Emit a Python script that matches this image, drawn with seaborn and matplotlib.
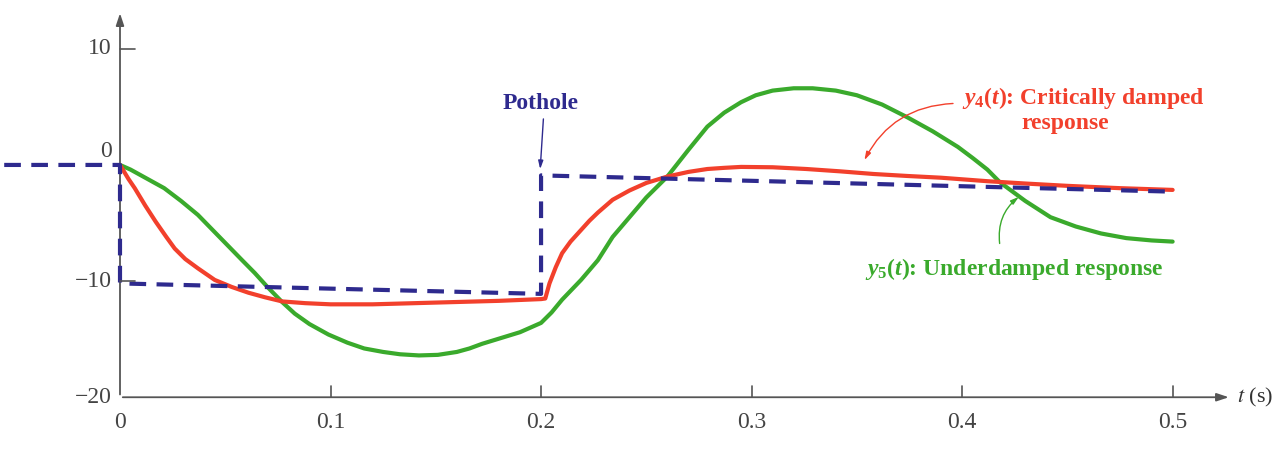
import matplotlib
matplotlib.use('Agg')
import matplotlib.pyplot as plt
import seaborn as sns
import pandas as pd

# values (t in s, displacement in cm)
pothole_t = [-0.055, 0.0, 0.0, 0.2, 0.2, 0.5]
pothole_y = [0.0, 0.0, -10.2, -11.1, -0.9, -2.3]

y4_t = [0.0, 0.004, 0.007, 0.012, 0.017, 0.022, 0.026, 0.031, 0.037, 0.045, 0.053, 0.061, 0.069,
        0.077, 0.088, 0.1, 0.12, 0.14, 0.16, 0.18, 0.2,
        0.202, 0.204, 0.207, 0.21, 0.214, 0.219, 0.223, 0.227, 0.234, 0.242, 0.25, 0.26, 0.27,
        0.279, 0.287, 0.295, 0.31, 0.326, 0.342, 0.358, 0.374, 0.39, 0.412, 0.43, 0.45, 0.475, 0.5]
y4_y = [0.0, -1.2, -2.0, -3.5, -4.9, -6.2, -7.2, -8.1, -8.9, -9.9, -10.5, -11.0, -11.4,
        -11.75, -11.9, -12.0, -12.0, -11.9, -11.8, -11.7, -11.55,
        -11.5, -10.2, -8.8, -7.6, -6.6, -5.6, -4.8, -4.1, -3.0, -2.2, -1.55, -1.0, -0.6,
        -0.35, -0.25, -0.17, -0.2, -0.35, -0.55, -0.78, -0.95, -1.1, -1.4, -1.6, -1.8, -2.0, -2.15]

y5_t = [0.0, 0.005, 0.01, 0.015, 0.021, 0.029, 0.037, 0.044, 0.051, 0.058, 0.064, 0.07,
        0.077, 0.083, 0.09, 0.099, 0.108, 0.116, 0.125, 0.133, 0.142, 0.151, 0.16, 0.166,
        0.172, 0.181, 0.19, 0.195, 0.2, 0.205, 0.21, 0.219, 0.227, 0.234, 0.242, 0.25, 0.26, 0.27,
        0.279, 0.287, 0.295, 0.302, 0.31, 0.32, 0.329, 0.34, 0.35, 0.362, 0.374, 0.386, 0.398,
        0.405, 0.412, 0.418, 0.43, 0.442, 0.454, 0.466, 0.478, 0.49, 0.5]
y5_y = [0.0, -0.4, -0.9, -1.4, -2.0, -3.1, -4.3, -5.6, -6.9, -8.2, -9.3, -10.5,
        -11.8, -12.8, -13.7, -14.6, -15.3, -15.8, -16.1, -16.3, -16.4, -16.35, -16.1, -15.8,
        -15.4, -14.9, -14.4, -14.0, -13.6, -12.7, -11.6, -9.9, -8.2, -6.2, -4.5, -2.8, -1.0, 1.3,
        3.3, 4.5, 5.4, 6.0, 6.4, 6.6, 6.6, 6.4, 6.0, 5.2, 4.1, 2.9, 1.55,
        0.6, -0.4, -1.5, -3.1, -4.5, -5.3, -5.9, -6.3, -6.5, -6.6]

x_ticks = [0.0, 0.1, 0.2, 0.3, 0.4, 0.5]
x_tick_labels = ['0', '0.1', '0.2', '0.3', '0.4', '0.5']
y_ticks = [10, 0, -10, -20]
y_tick_labels = ['10', '0', '\u221210', '\u221220']

RED = '#f2402c'
GREEN = '#3aaa2c'
NAVY = '#2e2a8e'
AXIS = '#555555'

sns.set_theme(style='white')
plt.rcParams['font.family'] = ['Liberation Serif', 'DejaVu Serif']
plt.rcParams['mathtext.fontset'] = 'custom'
plt.rcParams['mathtext.rm'] = 'Liberation Serif:bold'
plt.rcParams['mathtext.it'] = 'Liberation Serif:italic:bold'

fig = plt.figure(figsize=(12.8, 4.53), dpi=100)
ax = fig.add_axes([0, 0, 1, 1])
ax.set_xlim(-0.057, 0.551)
ax.set_ylim(-24.8, 14.2)
ax.axis('off')

pothole = pd.DataFrame({'t': pothole_t, 'y': pothole_y})
y4 = pd.DataFrame({'t': y4_t, 'y': y4_y})
y5 = pd.DataFrame({'t': y5_t, 'y': y5_y})

sns.lineplot(data=y5, x='t', y='y', color=GREEN, lw=3, sort=False, estimator=None, ax=ax)
sns.lineplot(data=y4, x='t', y='y', color=RED, lw=3, sort=False, estimator=None, ax=ax)
sns.lineplot(data=pothole, x='t', y='y', color=NAVY, lw=3, sort=False, estimator=None, ax=ax,
             linestyle=(0, (4, 2.5)))

# axes with arrows
ax.annotate('', xy=(0.528, -20), xytext=(0, -20), zorder=0,
            arrowprops=dict(arrowstyle='-|>,head_length=0.6,head_width=0.2', color=AXIS, lw=1.3))
ax.annotate('', xy=(0, 13.3), xytext=(0, -20), zorder=0,
            arrowprops=dict(arrowstyle='-|>,head_length=0.6,head_width=0.2', color=AXIS, lw=1.3))
ax.text(0.5305, -20, r'$t$ (s)', fontsize=16, va='center', ha='left', color='#333333',
        math_fontfamily='stix')

for xt, lab in zip(x_ticks, x_tick_labels):
    if xt > 0:
        ax.plot([xt, xt], [-20, -19.0], color=AXIS, lw=1.2)
    ax.text(xt, -21.3, lab, ha='center', va='top', fontsize=17, color='#444444')
for yt, lab in zip(y_ticks, y_tick_labels):
    if yt in (10, -10):
        ax.plot([0, 0.007], [yt, yt], color=AXIS, lw=1.2)
    yy = yt + 1.2 if yt == 0 else yt
    ax.text(-0.004, yy, lab, ha='right', va='center', fontsize=17, color='#444444')

# annotations
ax.text(0.2, 5.3, 'Pothole', ha='center', va='center', fontsize=17, fontweight='bold', color=NAVY)
ax.annotate('', xy=(0.1995, -0.6), xytext=(0.2012, 4.2),
            arrowprops=dict(arrowstyle='-|>,head_length=0.4,head_width=0.12', color=NAVY, lw=1))

ax.text(0.4, 5.8, r'$y_{4}(t)$: Critically damped', ha='left', va='center', fontsize=17,
        fontweight='bold', color=RED)
ax.text(0.449, 3.6, 'response', ha='center', va='center', fontsize=17, fontweight='bold', color=RED)
ax.annotate('', xy=(0.353, 0.2), xytext=(0.397, 5.3),
            arrowprops=dict(arrowstyle='-|>,head_length=0.4,head_width=0.12', color=RED, lw=1,
                            connectionstyle='arc3,rad=0.3'))

ax.text(0.354, -9.0, r'$y_{5}(t)$: Underdamped response', ha='left', va='center', fontsize=17,
        fontweight='bold', color=GREEN)
ax.annotate('', xy=(0.428, -2.6), xytext=(0.418, -7.0),
            arrowprops=dict(arrowstyle='-|>,head_length=0.4,head_width=0.12', color=GREEN, lw=1,
                            connectionstyle='arc3,rad=-0.3'))

fig.savefig('out.png', dpi=100, facecolor='white')
